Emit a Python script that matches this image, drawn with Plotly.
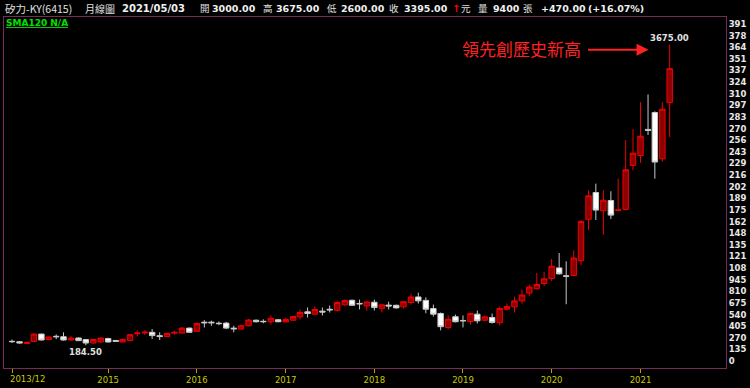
import pandas as pd
import plotly.graph_objects as go

# ---------------- data ----------------
months = pd.date_range("2013-12-01", periods=90, freq="MS")

open_ = [230, 225, 205, 227, 314, 250, 288, 283, 245, 268,
         250, 210, 222, 262, 240, 222, 238, 318, 328, 334,
         295, 285, 325, 326, 383, 345, 452, 452, 440, 441,
         383, 372, 410, 475, 462, 457, 480, 455, 475, 515,
         572, 545, 580, 602, 590, 653, 706, 670, 640, 683,
         613, 650, 648, 630, 680, 745, 705, 610, 553, 391,
         515, 472, 460, 545, 475, 506, 445, 602, 630, 699,
         790, 840, 901, 959, 1082, 990, 993, 1166, 1646, 1957,
         1746, 1865, 1750, 1761, 2272, 2387, 2690, 2886, 2348, 3000]
high = [250, 232, 228, 320, 318, 285, 310, 334, 290, 275,
        255, 255, 275, 272, 245, 262, 312, 355, 360, 372,
        334, 330, 353, 395, 390, 445, 475, 470, 460, 455,
        410, 425, 490, 482, 485, 530, 490, 505, 525, 600,
        622, 633, 622, 645, 702, 715, 715, 714, 695, 714,
        660, 690, 655, 695, 783, 795, 740, 656, 564, 530,
        540, 530, 560, 587, 530, 552, 633, 668, 748, 829,
        890, 1025, 1036, 1186, 1255, 1159, 1286, 1638, 1983, 2060,
        1983, 1972, 2118, 2567, 2694, 3005, 3096, 2900, 3005, 3675]
low = [210, 205, 200, 222, 240, 245, 255, 238, 240, 232,
       184.5, 205, 218, 215, 225, 218, 232, 285, 305, 257,
       245, 280, 307, 322, 330, 340, 391, 410, 418, 370,
       334, 365, 405, 450, 440, 425, 452, 450, 470, 483,
       506, 540, 530, 565, 575, 645, 640, 600, 587, 587,
       565, 600, 610, 610, 656, 668, 555, 518, 357, 368,
       450, 391, 420, 437, 460, 437, 414, 587, 564, 668,
       752, 832, 871, 929, 1005, 660, 985, 1113, 1523, 1638,
       1466, 1650, 1741, 1750, 2214, 2302, 2625, 2118, 2314, 2600]
close = [226, 210, 218, 314, 245, 280, 283, 245, 268, 238,
         210, 250, 268, 222, 230, 250, 307, 325, 336, 296,
         285, 322, 334, 383, 334, 437, 445, 445, 435, 383,
         375, 410, 477, 457, 458, 498, 457, 483, 518, 564,
         553, 599, 570, 595, 680, 702, 648, 665, 687, 622,
         653, 640, 618, 690, 745, 700, 602, 545, 400, 487,
         457, 468, 552, 468, 514, 449, 610, 633, 699, 768,
         860, 890, 955, 1102, 1013, 985, 1197, 1620, 1919, 1753,
         1868, 1695, 1755, 2222, 2414, 2610, 2680, 2311, 2924, 3395]

y_ticks = [135 * k for k in range(30)]
y_ticktext = [str(v)[:3] for v in y_ticks]
x_tick_idx = [0, 13, 25, 37, 49, 61, 73, 85]
x_ticktext = ["", "2015", "2016", "2017", "2018", "2019", "2020", "2021"]

header = [
    (2, "矽力-KY(6415)", False, "#E0E0E0", 10.5),
    (83, "月線圖", False, "#E0E0E0", 10),
    (120, "2021/05/03", True, "#F0F0F0", 10),
    (198, "開", False, "#E0E0E0", 9.5),
    (210, "3000.00", True, "#F0F0F0", 9.5),
    (262, "高", False, "#E0E0E0", 9.5),
    (275, "3675.00", True, "#F0F0F0", 9.5),
    (326, "低", False, "#E0E0E0", 9.5),
    (340, "2600.00", True, "#F0F0F0", 9.5),
    (389, "收", False, "#E0E0E0", 9.5),
    (404, "3395.00", True, "#F0F0F0", 9.5),
    (452, "↑", True, "#FF0000", 10),
    (461, "元", False, "#E0E0E0", 9.5),
    (478, "量", False, "#E0E0E0", 9.5),
    (493, "9400", True, "#F0F0F0", 9.5),
    (524, "張", False, "#E0E0E0", 9.5),
    (542, "+470.00", True, "#F0F0F0", 9.5),
    (589, "(+16.07%)", True, "#F0F0F0", 9.5),
]

# ---------------- figure ----------------
W, H = 750, 388
L, R, T, B = 3, 20, 17, 17
PW, PH = W - L - R, H - T - B


def px_x(p):
    return (p - L) / PW


def px_y(p):
    return (H - B - p) / PH


FONT = "DejaVu Sans, Noto Sans CJK TC, sans-serif"
CJK = "Noto Sans CJK TC, DejaVu Sans, sans-serif"
FRAME = "#7A2A55"

fig = go.Figure(go.Candlestick(
    x=months, open=open_, high=high, low=low, close=close,
    increasing=dict(line=dict(color="#F00000", width=1), fillcolor="#8B0000"),
    decreasing=dict(line=dict(color="#C8C8C8", width=1), fillcolor="#FFFFFF"),
    whiskerwidth=0, hoverinfo="skip", showlegend=False,
))

annotations = []
for x0, txt, bold, col, sz in header:
    annotations.append(dict(
        x=px_x(x0), y=px_y(8), xref="paper", yref="paper",
        xanchor="left", yanchor="middle", showarrow=False,
        text=f"<b>{txt}</b>" if bold else txt,
        font=dict(family=FONT if bold else CJK, size=sz, color=col),
    ))

annotations += [
    dict(x=px_x(3), y=px_y(23), xref="paper", yref="paper", xanchor="left",
         yanchor="middle", showarrow=False, text="<b><u>SMA120 N/A</u></b>",
         font=dict(family=FONT, size=9, color="#00E000")),
    dict(x=px_x(462), y=px_y(48.5), xref="paper", yref="paper", xanchor="left",
         yanchor="middle", showarrow=False, text="領先創歷史新高",
         font=dict(family=CJK, size=17, color="#FF2020")),
    dict(x=px_x(652), y=px_y(50), xref="paper", yref="paper", text="",
         showarrow=True, ax=-62, ay=0, arrowhead=2, arrowsize=1.2,
         arrowwidth=2, arrowcolor="#FF2020"),
    dict(x=months[89], y=high[89], xref="x", yref="y", yanchor="bottom",
         showarrow=False, text="<b>3675.00</b>",
         font=dict(family=FONT, size=8.5, color="#E0E0E0")),
    dict(x=months[10], y=low[10], xref="x", yref="y", yanchor="top",
         showarrow=False, text="<b>184.50</b>",
         font=dict(family=FONT, size=8.5, color="#E0E0E0")),
    dict(x=px_x(7), y=px_y(382.5), xref="paper", yref="paper", xanchor="left",
         yanchor="middle", showarrow=False, text="2013/12",
         font=dict(family=FONT, size=8.5, color="#C8C800")),
]

fig.update_layout(
    width=W, height=H,
    margin=dict(l=L, r=R, t=T, b=B, pad=0),
    paper_bgcolor="#000000", plot_bgcolor="#000000",
    boxgap=0.2, boxgroupgap=0,
    annotations=annotations,
    xaxis=dict(
        type="date", range=["2013-10-29", "2021-12-19"],
        rangeslider=dict(visible=False),
        tickvals=[months[i] for i in x_tick_idx], ticktext=x_ticktext,
        ticks="outside", ticklen=4, tickcolor="#A8A800", tickwidth=1,
        tickfont=dict(family=FONT, size=8.5, color="#C8C800"),
        showgrid=False, zeroline=False,
        showline=True, mirror=True, linecolor=FRAME, linewidth=1,
    ),
    yaxis=dict(
        side="right", range=[-80, 3995],
        tickvals=y_ticks, ticktext=y_ticktext, ticks="",
        tickfont=dict(family=FONT, size=8.5, color="#E8E8E8", weight="bold"),
        showgrid=False, zeroline=False,
        showline=True, mirror=True, linecolor=FRAME, linewidth=1,
    ),
)

fig.write_html("out.html")
